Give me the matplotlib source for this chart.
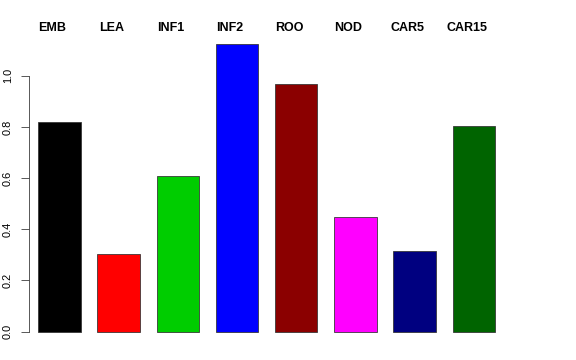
import numpy as np
from matplotlib import pyplot as plt

plt.rcParams['font.family'] = ['Liberation Sans', 'DejaVu Sans']

# values
groups = ['EMB', 'LEA', 'INF1', 'INF2', 'ROO', 'NOD', 'CAR5', 'CAR15']
heights = [0.818, 0.303, 0.607, 1.124, 0.967, 0.447, 0.315, 0.803]
colors = ['#000000', '#FF0000', '#00CD00', '#0000FF',
          '#8B0000', '#FF00FF', '#000080', '#006400']
yticks = [0.0, 0.2, 0.4, 0.6, 0.8, 1.0]

W, H = 576, 360
fig = plt.figure(figsize=(W / 72, H / 72), dpi=72)

# axes spans pixel x 29..566, y 10..345 (from top)
ax = fig.add_axes([29 / W, (H - 345) / H, (566 - 29) / W, (345 - 10) / H])

x = np.arange(len(groups))
ax.bar(x, heights, width=0.716, color=colors, edgecolor='#333333', linewidth=0.8)

ax.set_xlim(-0.515, 8.556)
ax.set_ylim(-0.052, 1.2566)

for xi, g in zip(x, groups):
    ax.text(xi - 0.12, 1.186, g, ha='center', va='center',
            fontsize=12.5, fontweight='bold', clip_on=False)

for s in ['top', 'right', 'bottom']:
    ax.spines[s].set_visible(False)
ax.spines['left'].set_bounds(0, 1.0)
ax.spines['left'].set_linewidth(0.8)
ax.spines['left'].set_color('#333333')

ax.set_xticks([])
ax.set_yticks(yticks)
ax.set_yticklabels([f'{t:.1f}' for t in yticks], rotation=90, va='center')
ax.tick_params(axis='y', length=8, width=0.8, pad=8, labelsize=11, color='#333333')

fig.savefig('out.png', dpi=72)
